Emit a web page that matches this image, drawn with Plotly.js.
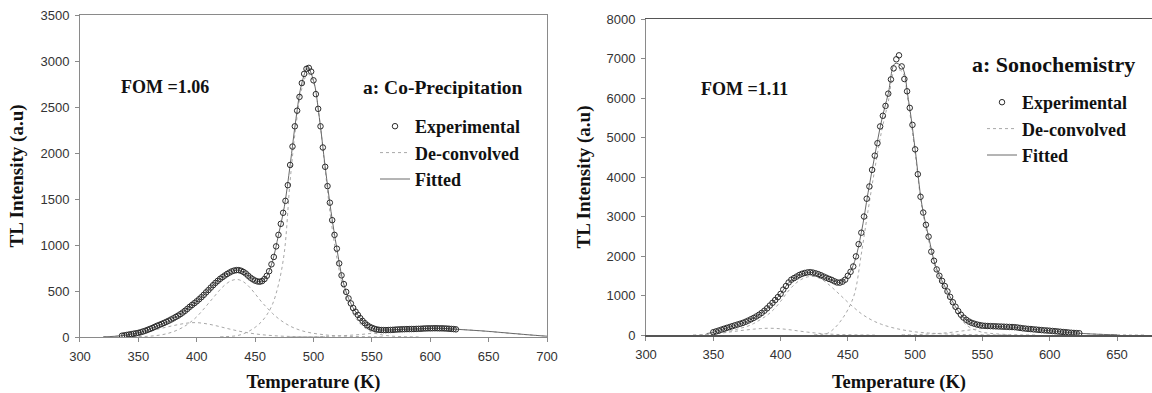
<!DOCTYPE html>
<html>
<head>
<meta charset="utf-8">
<script src="https://cdn.plot.ly/plotly-3.0.1.min.js"></script>
<style>html,body{margin:0;padding:0;background:#fff;}#chart{width:1152px;height:393px;}</style>
</head>
<body>
<div id="chart"></div>
<script>
// ---------- Panel 1: Co-Precipitation ----------
const coExpT = [
336,338,340,342,344,346,348,350,352,354,
356,358,360,362,364,366,368,370,372,374,
376,378,380,382,384,386,388,390,392,394,
396,398,400,402,404,406,408,410,412,414,
416,418,420,422,424,426,428,430,432,434,
436,438,440,442,444,446,448,450,452,454,
456,458,460,462,464,466,468,470,472,474,
476,478,480,482,484,486,488,490,492,494,
496,498,500,502,504,506,508,510,512,514,
516,518,520,522,524,526,528,530,532,534,
536,538,540,542,544,546,548,550,552,554,
556,558,560,562,564,566,568,570,572,574,
576,578,580,582,584,586,588,590,592,594,
596,598,600,602,604,606,608,610,612,614,
616,618,620,622];
const coExpI = [
14,18,22,27,31,36,40,45,52,60,
68,78,88,98,110,122,132,142,153,165,
177,190,203,218,232,248,266,285,306,328,
348,368,388,410,433,458,485,510,537,563,
588,610,632,650,668,685,700,713,722,727,
727,720,707,690,667,645,627,613,604,601,
608,630,665,715,790,870,985,1110,1230,1350,
1480,1650,1870,2070,2290,2460,2610,2760,2860,2915,
2925,2885,2790,2640,2480,2290,2060,1850,1640,1460,
1270,1110,960,800,670,575,490,420,365,315,
275,240,205,175,150,128,112,100,90,83,
78,76,75,75,76,77,78,80,82,83,
84,85,86,86,87,87,88,89,90,92,
93,94,94,95,95,95,94,94,93,92,
90,88,86,83];

const coFitT = [320,325,330,335,340,345,350,355,360,365,370,375,380,385,390,395,400,405,410,415,420,425,430,435,440,445,450,455,460,465,470,475,480,485,490,495,500,505,510,515,520,525,530,535,540,545,550,555,560,565,570,575,580,585,590,595,600,605,610,615,620,625,630,635,640,645,650,655,660,665,670,675,680,685,690,695,700];
const coFitI = [2,4,8,13,22,34,45,64,88,116,142,171,203,240,285,338,388,445,510,576,632,677,713,728,707,656,613,603,665,830,1110,1415,1870,2375,2760,2925,2790,2385,1850,1365,960,620,420,295,205,138,100,80,75,76,80,83,86,87,89,92,94,95,94,91,86,82,78,74,70,66,61,56,50,45,39,34,28,23,18,13,9];

const coPkAT = [320,325,330,335,340,345,350,355,360,365,370,375,380,385,390,395,400,405,410,415,420,425,430,435,440,445,450,455,460,465,470,475,480,485,490,495,500,510];
const coPkAI = [2,4,8,14,21,30,40,52,65,80,95,110,124,137,148,155,156,150,140,127,112,96,81,67,54,43,34,26,20,15,11,8,6,4,3,2,1,1];

const coPkBT = [340,345,350,355,360,365,370,375,380,385,390,395,400,405,410,415,420,425,430,435,440,445,450,455,460,465,470,475,480,485,490,495,500,505,510,515,520,525,530,535,540,545,550,555,560];
const coPkBI = [1,2,4,6,9,15,24,38,58,85,120,165,220,290,365,440,515,575,615,625,600,545,470,390,320,255,200,155,118,90,68,52,40,31,23,17,13,10,7,5,4,3,2,1,1];

const coPkCT = [420,425,430,435,440,445,450,455,460,465,470,475,480,485,490,495,500,505,510,515,520,525,530,535,540,545,550,555,560,565,570,575,580,590];
const coPkCI = [2,4,8,16,35,65,105,160,240,360,570,920,1700,2300,2700,2860,2770,2380,1820,1270,860,555,360,230,145,90,55,33,20,12,7,4,2,1];

const coPkDT = [480,490,500,510,520,530,540,550,560,570,580,590,600,610,620,630,640,650,660,670,680,690,700];
const coPkDI = [1,2,3,6,11,18,27,40,54,66,76,83,88,89,86,79,70,60,49,38,28,18,9];

// ---------- Panel 2: Sonochemistry ----------
const soExpT = [
350,352,354,356,358,360,362,364,366,368,
370,372,374,376,378,380,382,384,386,388,
390,392,394,396,398,400,402,404,406,408,
410,412,414,416,418,420,422,424,426,428,
430,432,434,436,438,440,442,444,446,448,
450,452,454,456,458,460,462,464,466,468,
470,472,474,476,478,480,482,484,486,488,
490,492,494,496,498,500,502,504,506,508,
510,512,514,516,518,520,522,524,526,528,
530,532,534,536,538,540,542,544,546,548,
550,552,554,556,558,560,562,564,566,568,
570,572,574,576,578,580,582,584,586,588,
590,592,594,596,598,600,602,604,606,608,
610,612,614,616,618,620,622];
const soExpI = [
70,90,112,135,158,180,200,222,244,265,
285,307,335,365,398,432,470,513,560,615,
675,745,815,885,960,1040,1150,1240,1330,1400,
1440,1480,1520,1550,1570,1585,1590,1580,1562,1540,
1512,1480,1450,1420,1395,1360,1330,1325,1350,1400,
1500,1600,1735,1990,2300,2590,3000,3450,3760,4180,
4540,4856,5280,5550,5800,6110,6470,6750,6980,7080,
6800,6480,6170,5750,5320,4700,4070,3500,3100,2790,
2490,2110,1880,1660,1500,1370,1240,1103,965,830,
715,605,515,440,385,340,308,285,265,250,
238,232,228,225,222,219,216,213,210,207,
204,202,198,190,180,170,162,155,150,143,
137,130,124,118,114,108,102,96,89,82,
76,70,63,57,52,48,45];

const soFitT = [345,350,355,360,365,370,375,380,385,390,395,400,405,410,415,420,425,430,435,440,445,450,455,460,465,470,475,480,485,490,495,500,505,510,515,520,525,530,535,540,545,550,555,560,565,570,575,580,585,590,595,600,605,610,615,620,625,630,635,640,645,650];
const soFitI = [35,70,125,180,233,285,350,432,535,675,850,1040,1285,1440,1535,1585,1572,1512,1435,1360,1335,1500,1860,2590,3600,4540,5420,6110,6870,6800,5960,4700,3300,2490,1770,1370,1035,715,475,340,275,238,226,219,212,204,194,170,152,137,121,108,92,76,60,48,38,28,20,14,9,6];

const soPkAT = [335,340,345,350,355,360,365,370,375,380,385,390,395,400,405,410,415,420,425,430,435,440,445,450,455,460,465,470];
const soPkAI = [3,8,16,28,45,65,88,110,130,148,162,170,168,158,140,118,95,73,54,38,26,17,11,7,4,2,1,1];

const soPkBT = [340,345,350,355,360,365,370,375,380,385,390,395,400,405,410,415,420,425,430,435,440,445,450,455,460,465,470,475,480,485,490,495,500,505,510,515,520,525,530,535,540,545,550,560,570];
const soPkBI = [5,10,20,45,80,120,170,215,290,390,500,650,850,1080,1270,1400,1470,1480,1420,1300,1150,990,830,680,540,430,340,270,215,170,135,105,80,63,50,39,30,24,18,14,10,7,5,2,1];

const soPkCT = [425,430,435,440,445,450,455,460,465,470,475,480,485,490,495,500,505,510,515,520,525,530,535,540,545,550,555,560,570,580,590];
const soPkCI = [5,15,45,170,370,640,1050,2050,3150,4200,5150,5900,6700,6680,5850,4600,3230,2400,1700,1290,950,617,360,205,123,68,45,29,10,3,1];

const soPkDT = [490,500,510,520,530,540,550,560,570,580,590,600,610,620,630,640,650,660,670];
const soPkDI = [5,10,25,45,80,125,165,188,193,168,137,108,76,48,28,14,6,2,1];

// ---------- Tick values / labels ----------
const coXTicks = [300,350,400,450,500,550,600,650,700];
const coYTicks = [0,500,1000,1500,2000,2500,3000,3500];
const soXTicks = [300,350,400,450,500,550,600,650];
const soYTicks = [0,1000,2000,3000,4000,5000,6000,7000,8000];

// ---------- styles ----------
const serif = 'Liberation Serif, Times New Roman, serif';
const sans = 'Liberation Sans, Arial, sans-serif';
const expMarker = {symbol:'circle-open', size:5.5, color:'#2b2b2b', line:{width:1, color:'#2b2b2b'}};
const dotLine = {color:'#a8a8a8', width:1, dash:'dot', shape:'spline'};
const fitLine = {color:'#6a6a6a', width:1, shape:'spline'};

function comp(x, y, xa, ya, leg, show) {
  return {x:x, y:y, xaxis:xa, yaxis:ya, type:'scatter', mode:'lines', line:dotLine,
          name:'De-convolved', legend:leg, showlegend:show, legendrank:2, hoverinfo:'skip'};
}

const traces = [
  comp(coPkAT, coPkAI, 'x', 'y', 'legend', true),
  comp(coPkBT, coPkBI, 'x', 'y', 'legend', false),
  comp(coPkCT, coPkCI, 'x', 'y', 'legend', false),
  comp(coPkDT, coPkDI, 'x', 'y', 'legend', false),
  {x:coFitT, y:coFitI, xaxis:'x', yaxis:'y', type:'scatter', mode:'lines', line:fitLine, name:'Fitted', legend:'legend', legendrank:3},
  {x:coExpT, y:coExpI, xaxis:'x', yaxis:'y', type:'scatter', mode:'markers', marker:expMarker, name:'Experimental', legend:'legend', legendrank:1},

  comp(soPkAT, soPkAI, 'x2', 'y2', 'legend2', true),
  comp(soPkBT, soPkBI, 'x2', 'y2', 'legend2', false),
  comp(soPkCT, soPkCI, 'x2', 'y2', 'legend2', false),
  comp(soPkDT, soPkDI, 'x2', 'y2', 'legend2', false),
  {x:soFitT, y:soFitI, xaxis:'x2', yaxis:'y2', type:'scatter', mode:'lines', line:fitLine, name:'Fitted', legend:'legend2', legendrank:3},
  {x:soExpT, y:soExpI, xaxis:'x2', yaxis:'y2', type:'scatter', mode:'markers', marker:expMarker, name:'Experimental', legend:'legend2', legendrank:1}
];

const tickFont = {family:sans, size:13, color:'#333'};
const titleFont = {family:serif, size:18.5, color:'#111', weight:'bold'};
const axBase = {showgrid:false, zeroline:false, showline:true, linecolor:'#8a8a8a', linewidth:1,
                ticks:'outside', ticklen:4, tickcolor:'#8a8a8a', tickfont:tickFont, ticklabelstandoff:3};

const legFont = {family:serif, size:18, color:'#111', weight:'bold'};

const layout = {
  width:1152, height:393,
  margin:{l:0, r:0, t:0, b:0},
  paper_bgcolor:'#ffffff', plot_bgcolor:'#ffffff',
  showlegend:true,
  xaxis: Object.assign({}, axBase, {domain:[0.06944,0.47483], range:[300,700], tickvals:coXTicks, ticktext:coXTicks.map(String), mirror:true, anchor:'y',
          title:{text:'Temperature (K)', font:titleFont}}),
  yaxis: Object.assign({}, axBase, {domain:[0.14249,0.96183], range:[0,3500], tickvals:coYTicks, ticktext:coYTicks.map(String), mirror:true, anchor:'x',
          title:{text:'TL Intensity (a.u)', font:Object.assign({}, titleFont, {size:19}), standoff:11}}),
  xaxis2: Object.assign({}, axBase, {domain:[0.56076,1], range:[300,676], tickvals:soXTicks, ticktext:soXTicks.map(String), mirror:true, anchor:'y2', linecolor:'#555', linewidth:1.5,
          title:{text:'Temperature (K)', font:titleFont}}),
  yaxis2: Object.assign({}, axBase, {domain:[0.14758,0.95165], range:[0,8000], tickvals:soYTicks, ticktext:soYTicks.map(String), mirror:false, anchor:'x2',
          title:{text:'TL Intensity (a.u)', font:Object.assign({}, titleFont, {size:19}), standoff:10}}),
  legend: {x:375/1152, y:1-108/393, xanchor:'left', yanchor:'top', bgcolor:'rgba(0,0,0,0)', borderwidth:0,
           font:legFont, traceorder:'normal', itemwidth:30},
  legend2: {x:982/1152, y:1-84/393, xanchor:'left', yanchor:'top', bgcolor:'rgba(0,0,0,0)', borderwidth:0,
           font:legFont, traceorder:'normal', itemwidth:30},
  annotations: [
    {xref:'paper', yref:'paper', x:119/1152, y:1-86.5/393, xanchor:'left', yanchor:'middle', showarrow:false,
     text:'<b>FOM =1.06</b>', font:{family:serif, size:18, color:'#111'}},
    {xref:'paper', yref:'paper', x:361/1152, y:1-87/393, xanchor:'left', yanchor:'middle', showarrow:false,
     text:'<b>a: Co-Precipitation</b>', font:{family:serif, size:19.5, color:'#111'}},
    {xref:'paper', yref:'paper', x:699/1152, y:1-88.5/393, xanchor:'left', yanchor:'middle', showarrow:false,
     text:'<b>FOM =1.11</b>', font:{family:serif, size:18, color:'#111'}},
    {xref:'paper', yref:'paper', x:970/1152, y:1-65/393, xanchor:'left', yanchor:'middle', showarrow:false,
     text:'<b>a: Sonochemistry</b>', font:{family:serif, size:22, color:'#111'}}
  ]
};

Plotly.newPlot('chart', traces, layout, {displayModeBar:false, staticPlot:true});
</script>
</body>
</html>
